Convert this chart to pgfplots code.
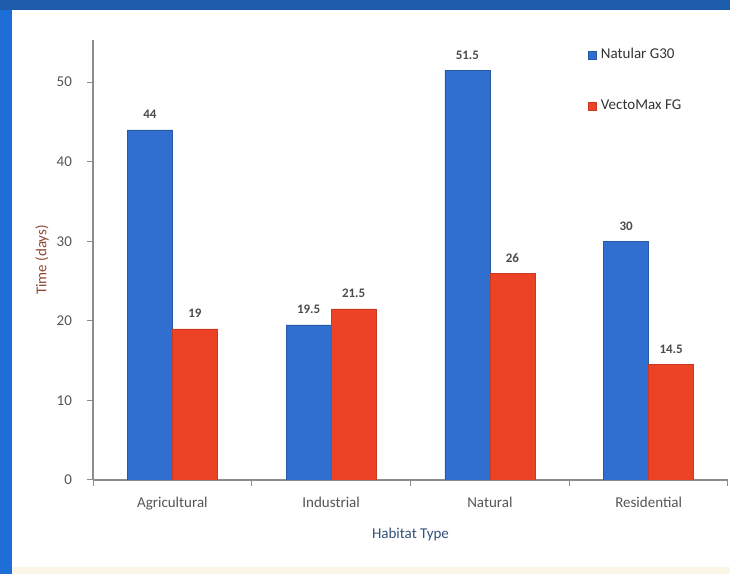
\documentclass[border=0pt]{standalone}
\usepackage{pgfplots}
\pgfplotsset{compat=1.18}
\usepackage{fontspec}
\setmainfont{Carlito}
\definecolor{barblue}{RGB}{48,110,208}
\definecolor{barred}{RGB}{236,66,38}
\definecolor{frameblue}{RGB}{28,92,170}
\definecolor{sideblue}{RGB}{30,110,215}
\definecolor{cream}{RGB}{250,246,232}
\definecolor{tickgray}{RGB}{85,85,90}
\definecolor{ylab}{RGB}{140,72,52}
\definecolor{xlab}{RGB}{52,82,122}
\begin{document}
\begin{tikzpicture}
% frame (1px = 0.5pt, picture 730x574 px)
\useasboundingbox (0,0) rectangle (365pt,287pt);
\fill[frameblue] (0,0) rectangle (365pt,287pt);
\fill[sideblue] (0,0) rectangle (6pt,282pt);
\fill[white] (6pt,3.5pt) rectangle (365pt,282pt);
\fill[cream] (6pt,0) rectangle (365pt,3.5pt);
\begin{axis}[
    at={(46.5pt,47pt)}, anchor=south west,
    scale only axis,
    width=317.5pt, height=220pt,
    /pgf/number format/assume math mode=true,
    ybar=0pt, bar width=22.5pt,
    xmin=-0.5, xmax=3.5,
    ymin=0, ymax=55.3,
    ytick={0,10,20,30,40,50},
    xtick={-0.5,0.5,1.5,2.5,3.5},
    xticklabels={},
    extra x ticks={0,1,2,3},
    extra x tick labels={Agricultural,Industrial,Natural,Residential},
    extra x tick style={major tick length=0pt, tick label style={yshift=-5pt}},
    axis lines*=left,
    axis line style={draw=black!45, line width=0.7pt},
    tick style={draw=black!45, line width=0.5pt},
    tick align=outside, major tick length=3pt,
    tick label style={font=\fontsize{7.5}{8}\selectfont, text=tickgray},
    yticklabel style={xshift=-4pt},
    xlabel={Habitat Type},
    ylabel={Time (days)},
    xlabel style={at={(axis description cs:0.5,-0.125)}, anchor=center, font=\fontsize{7.5}{8}\selectfont, text=xlab},
    ylabel style={at={(axis description cs:-0.08,0.5)}, anchor=center, rotate=0, font=\fontsize{7.5}{8}\selectfont, text=ylab},
    nodes near coords,
    every node near coord/.append style={font=\bfseries\fontsize{6.5}{7}\selectfont, text=black!70, yshift=2pt},
    legend style={at={(0.77,1.0)}, anchor=north west, draw=none, fill=none,
      font=\fontsize{7.5}{8}\selectfont, text=black!80, row sep=15pt},
    legend cell align=left,
    legend image code/.code={\fill[#1] (0pt,-2pt) rectangle (4pt,2pt);},
]
\addplot[fill=barblue, draw=barblue!80!black, line width=0.3pt] coordinates {
    (0,44) (1,19.5) (2,51.5) (3,30)
};
\addlegendentry{Natular G30}
\addplot[fill=barred, draw=barred!85!black, line width=0.3pt] coordinates {
    (0,19) (1,21.5) (2,26) (3,14.5)
};
\addlegendentry{VectoMax FG}
\end{axis}
\end{tikzpicture}
\end{document}
